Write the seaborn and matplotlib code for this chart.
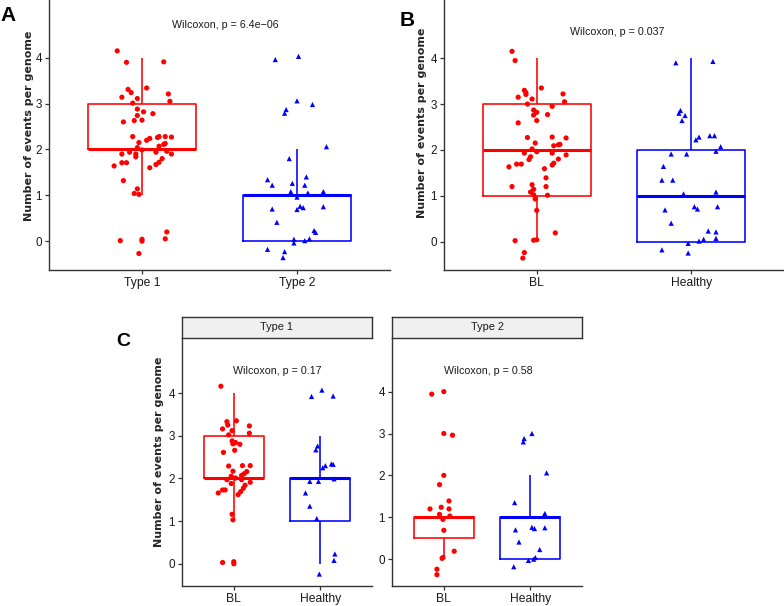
import numpy as np
import pandas as pd
import matplotlib.pyplot as plt
import seaborn as sns

# ---- data: counts per genome, plus the jittered positions ----
# Panel A: Type 1 vs Type 2
a_t1_n = [4, 4, 4, 3, 3, 3, 3, 3, 3, 3, 3, 3, 3, 3, 3, 3, 3, 3,
          2, 2, 2, 2, 2, 2, 2, 2, 2, 2, 2, 2, 2, 2, 2, 2, 2, 2, 2, 2, 2, 2, 2, 2, 2, 2, 2,
          1, 1, 1, 1, 0, 0, 0, 0, 0, 0]
a_t1_y = [4.15, 3.90, 3.91, 3.34, 3.31, 3.24, 3.21, 3.14, 3.11, 3.05, 3.01, 2.88, 2.82, 2.78,
          2.74, 2.60, 2.63, 2.64, 2.28, 2.28, 2.28, 2.27, 2.26, 2.24, 2.20, 2.15, 2.11, 2.13,
          2.07, 2.04, 1.94, 1.99, 1.94, 1.96, 1.90, 1.90, 1.90, 1.84, 1.80, 1.72, 1.71, 1.71,
          1.67, 1.64, 1.60, 1.32, 1.14, 1.04, 1.02, 0.20, 0.05, 0.01, 0.04, 0.00, -0.27]
a_t1_dx = [-0.16, -0.10, 0.14, 0.03, -0.09, -0.07, 0.17, -0.13, -0.03, 0.18, -0.06, -0.03, 0.01,
           0.07, -0.03, -0.12, -0.05, 0.00, -0.06, 0.11, 0.15, 0.19, 0.10, 0.05, 0.03, -0.02,
           0.14, 0.15, 0.11, -0.03, -0.08, 0.00, 0.09, 0.16, -0.13, -0.04, 0.19, -0.04, 0.13,
           0.11, -0.13, -0.10, 0.09, -0.18, 0.05, -0.12, -0.03, -0.05, -0.02, 0.16, 0.15, -0.14,
           0.00, 0.00, -0.02]

a_t2_n = [4, 4, 3, 3, 3, 3, 2, 1, 1, 1, 1, 1, 1, 1, 1, 1, 1, 1, 1, 1, 1, 1,
          0, 0, 0, 0, 0, 0, 0, 0, 0, 0]
a_t2_y = [3.96, 4.03, 3.06, 2.98, 2.87, 2.79, 2.06, 1.80, 1.34, 1.22, 1.26, 1.40, 1.22, 1.08,
          0.96, 1.05, 1.08, 0.70, 0.75, 0.76, 0.73, 0.69, 0.41, 0.23, 0.19, 0.04, -0.04, 0.01,
          0.05, -0.18, -0.23, -0.36]
a_t2_dx = [-0.14, 0.01, 0.00, 0.10, -0.07, -0.08, 0.19, -0.05, -0.19, -0.16, -0.03, 0.06, 0.05,
           -0.04, 0.00, 0.07, 0.17, -0.16, 0.17, 0.02, 0.04, 0.00, -0.13, 0.11, 0.12, -0.02,
           -0.02, 0.05, 0.08, -0.19, -0.08, -0.09]

# Panel B: BL vs Healthy
b_bl_n = [4, 4, 3, 3, 3, 3, 3, 3, 3, 3, 3, 3, 3, 3, 3, 3, 3, 3,
          2, 2, 2, 2, 2, 2, 2, 2, 2, 2, 2, 2, 2, 2, 2, 2, 2, 2, 2, 2, 2,
          1, 1, 1, 1, 1, 1, 1, 1, 1, 1, 0, 0, 0, 0, 0, 0]
b_bl_y = [4.15, 3.95, 3.35, 3.30, 3.25, 3.21, 3.22, 3.15, 3.11, 3.05, 3.00, 2.95, 2.87, 2.82,
          2.77, 2.76, 2.64, 2.59, 2.27, 2.28, 2.26, 2.15, 2.11, 2.12, 2.09, 2.02, 1.93, 1.96,
          1.93, 1.89, 1.85, 1.79, 1.80, 1.71, 1.69, 1.69, 1.67, 1.63, 1.59, 1.39, 1.20, 1.24,
          1.20, 1.08, 1.14, 1.02, 1.01, 0.93, 0.68, 0.19, 0.02, 0.03, 0.04, -0.24, -0.36]
b_bl_dx = [-0.16, -0.14, 0.03, -0.08, -0.07, -0.07, 0.17, -0.12, -0.03, 0.18, -0.06, 0.10, -0.02,
           0.00, 0.07, -0.02, 0.00, -0.12, -0.06, 0.10, 0.19, -0.01, 0.14, 0.15, 0.11, -0.03,
           -0.08, 0.00, 0.10, 0.19, -0.04, -0.05, 0.14, 0.11, -0.13, -0.10, 0.10, -0.18, 0.05,
           0.06, -0.16, -0.03, 0.06, -0.04, -0.02, -0.02, 0.07, -0.01, 0.00, 0.12, -0.14, -0.02,
           0.00, -0.08, -0.09]

b_h_n = [4, 4, 3, 3, 3, 3, 2, 2, 2, 2, 2, 2, 2, 2, 2, 1, 1, 1, 1, 1, 1, 1, 1,
         0, 0, 0, 0, 0, 0, 0, 0, 0]
b_h_y = [3.90, 3.93, 2.86, 2.80, 2.75, 2.64, 2.22, 2.28, 2.31, 2.31, 2.07, 1.97, 1.91, 1.91,
         1.64, 1.34, 1.34, 1.04, 1.08, 0.69, 0.76, 0.71, 0.76, 0.40, 0.23, 0.21, 0.01, 0.05,
         0.07, -0.04, -0.18, -0.25]
b_h_dx = [-0.10, 0.14, -0.07, -0.08, -0.04, -0.06, 0.03, 0.05, 0.12, 0.15, 0.19, 0.16, -0.13,
          -0.03, -0.18, -0.19, -0.12, -0.05, 0.16, -0.17, 0.02, 0.04, 0.17, -0.13, 0.11, 0.16,
          0.05, 0.08, 0.16, -0.02, -0.19, -0.02]

# Panel C, facet Type 1
c1_bl_n = [4, 3, 3, 3, 3, 3, 3, 3, 3, 3, 3, 3, 3, 3, 3,
           2, 2, 2, 2, 2, 2, 2, 2, 2, 2, 2, 2, 2, 2, 2, 2, 2, 2, 2, 2,
           1, 1, 0, 0, 0]
c1_bl_y = [4.16, 3.35, 3.33, 3.25, 3.23, 3.16, 3.12, 3.06, 3.02, 2.88, 2.84, 2.80, 2.81, 2.61,
           2.66, 2.29, 2.30, 2.30, 2.16, 2.17, 2.11, 2.07, 2.05, 1.97, 2.01, 1.97, 1.91, 1.88,
           1.84, 1.77, 1.73, 1.73, 1.69, 1.66, 1.62, 1.16, 1.03, 0.03, 0.05, 0.00]
c1_bl_dx = [-0.15, 0.03, -0.08, -0.07, 0.18, -0.13, -0.02, 0.18, -0.06, -0.02, 0.02, 0.07, -0.01,
            -0.12, 0.01, -0.06, 0.10, 0.19, 0.15, -0.01, 0.12, 0.09, -0.03, -0.08, 0.02, 0.09,
            0.19, -0.03, 0.13, 0.11, -0.13, -0.10, 0.08, -0.18, 0.05, -0.02, -0.01, -0.13, 0.00,
            0.00]

c1_h_n = [4, 4, 4, 3, 2, 2, 2, 2, 2, 2, 2, 2, 1, 1, 1, 0, 0, 0]
c1_h_y = [3.92, 4.07, 3.93, 2.76, 2.67, 2.34, 2.33, 2.30, 2.25, 1.93, 1.93, 1.99, 1.66, 1.35,
          1.06, 0.23, 0.08, -0.24]
c1_h_dx = [-0.10, 0.02, 0.15, -0.03, -0.05, 0.13, 0.15, 0.06, 0.03, -0.12, -0.02, 0.16, -0.17,
           -0.12, -0.04, 0.17, 0.16, -0.01]

# Panel C, facet Type 2
c2_bl_n = [4, 4, 3, 3, 1, 1, 1, 1, 1, 1, 1, 1, 1, 1, 0, 0, 0, 0, 0]
c2_bl_y = [3.94, 4.00, 3.00, 2.96, 2.00, 1.78, 1.39, 1.20, 1.24, 1.20, 1.07, 1.03, 0.95, 0.69,
           0.19, 0.02, 0.04, -0.24, -0.37]
c2_bl_dx = [-0.14, 0.00, 0.00, 0.10, 0.00, -0.05, 0.06, -0.16, -0.03, 0.06, -0.05, 0.07, -0.01,
            0.00, 0.12, -0.02, -0.01, -0.08, -0.08]

c2_h_n = [3, 3, 3, 2, 1, 1, 1, 1, 1, 1, 1, 0, 0, 0, 0, 0, 0]
c2_h_y = [3.00, 2.88, 2.80, 2.06, 1.35, 1.09, 1.04, 0.70, 0.76, 0.73, 0.75, 0.41, 0.23, 0.04,
          0.00, -0.03, -0.18]
c2_h_dx = [0.02, -0.07, -0.08, 0.19, -0.18, 0.17, 0.16, -0.17, 0.02, 0.05, 0.17, -0.13, 0.11,
           0.06, 0.04, -0.02, -0.19]

p_labels = {'A': 'Wilcoxon, p = 6.4e\u221206', 'B': 'Wilcoxon, p = 0.037',
            'C1': 'Wilcoxon, p = 0.17', 'C2': 'Wilcoxon, p = 0.58'}
facet_names = ['Type 1', 'Type 2']

RED = '#FF0000'
BLUE = '#0000FF'
W, H = 784, 606

sns.set_style('ticks')
plt.rcParams['font.family'] = ['Liberation Sans', 'DejaVu Sans']


def px_axes(fig, l, t, r, b):
    return fig.add_axes([l / W, 1 - b / H, (r - l) / W, (b - t) / H])


def draw_panel(ax, labels, counts, ys, dxs, ylim, ptext, pxy, ylab=None, lab_xy=None):
    sizes = [len(c) for c in counts]
    pos = np.repeat([0, 1], sizes)
    df = pd.DataFrame({
        'group': np.repeat(labels, sizes),
        'pos': pos,
        'count': np.concatenate(counts).astype(float),
        'xj': pos + np.concatenate(dxs),
        'yj': np.concatenate(ys),
    })
    pal = dict(zip(labels, [RED, BLUE]))
    sns.boxplot(data=df, x='pos', y='count', hue='group', palette=pal, native_scale=True,
                fill=False, width=0.7, saturation=1, showfliers=False, showcaps=False,
                linewidth=1.15, medianprops={'linewidth': 2.2}, legend=False, ax=ax)
    sns.scatterplot(data=df, x='xj', y='yj', hue='group', style='group', palette=pal,
                    markers=dict(zip(labels, ['o', '^'])), s=14, linewidth=0,
                    legend=False, ax=ax, zorder=3)
    ax.set_xlim(-0.6, 1.6)
    ax.set_ylim(*ylim)
    ax.set_xticks([0, 1], labels)
    ax.set_yticks([0, 1, 2, 3, 4])
    ax.tick_params(length=3, width=0.9, color='#333333', labelcolor='#1a1a1a', pad=2)
    ax.tick_params(axis='x', labelsize=8.7)
    ax.tick_params(axis='y', labelsize=8.4)
    for side in ['top', 'right']:
        ax.spines[side].set_visible(False)
    for side in ['left', 'bottom']:
        ax.spines[side].set_linewidth(1.0)
        ax.spines[side].set_color('#333333')
    ax.set_xlabel('')
    if ylab:
        ax.set_ylabel(ylab, fontsize=8, fontweight='bold', va='center', family=['DejaVu Sans'])
        ax.yaxis.set_label_coords(*lab_xy)
    else:
        ax.set_ylabel('')
    ax.text(pxy[0], pxy[1], ptext, ha='center', va='center', fontsize=7.7, color='#1a1a1a')


fig = plt.figure(figsize=(W / 100, H / 100), dpi=100)
ylab = 'Number of events per genome'

ax_a = px_axes(fig, 49, 0, 390, 270)
draw_panel(ax_a, ['Type 1', 'Type 2'], [a_t1_n, a_t2_n], [a_t1_y, a_t2_y], [a_t1_dx, a_t2_dx],
           (-0.63, 5.26), p_labels['A'], (0.54, 4.71), ylab, (-0.058, 0.533))

ax_b = px_axes(fig, 444, 0, 784, 270)
draw_panel(ax_b, ['BL', 'Healthy'], [b_bl_n, b_h_n], [b_bl_y, b_h_y], [b_bl_dx, b_h_dx],
           (-0.62, 5.27), p_labels['B'], (0.52, 4.58), ylab, (-0.064, 0.544))

ax_c1 = px_axes(fig, 182, 338, 372, 586)
draw_panel(ax_c1, ['BL', 'Healthy'], [c1_bl_n, c1_h_n], [c1_bl_y, c1_h_y], [c1_bl_dx, c1_h_dx],
           (-0.52, 5.29), p_labels['C1'], (0.5, 4.52), ylab, (-0.12, 0.542))

ax_c2 = px_axes(fig, 392, 338, 582, 586)
draw_panel(ax_c2, ['BL', 'Healthy'], [c2_bl_n, c2_h_n], [c2_bl_y, c2_h_y], [c2_bl_dx, c2_h_dx],
           (-0.64, 5.28), p_labels['C2'], (0.52, 4.5))

# facet strips
for (l, r), name in zip([(182, 372), (392, 582)], facet_names):
    sax = px_axes(fig, l, 317, r, 338)
    sax.set_facecolor('#F0F0F0')
    sax.set_xticks([])
    sax.set_yticks([])
    for sp in sax.spines.values():
        sp.set_visible(True)
        sp.set_color('#333333')
        sp.set_linewidth(1.0)
    sax.text(0.5, 0.5, name, ha='center', va='center', fontsize=7.9, color='#1a1a1a',
             transform=sax.transAxes)

# panel letters
for letter, (x, y), size in [('A', (8.5, 15.5), 15), ('B', (407, 20), 15), ('C', (123, 341.5), 14)]:
    fig.text(x / W, 1 - y / H, letter, ha='center', va='center', fontsize=size,
             fontweight='bold', color='black')

fig.savefig('out.png', dpi=100)
